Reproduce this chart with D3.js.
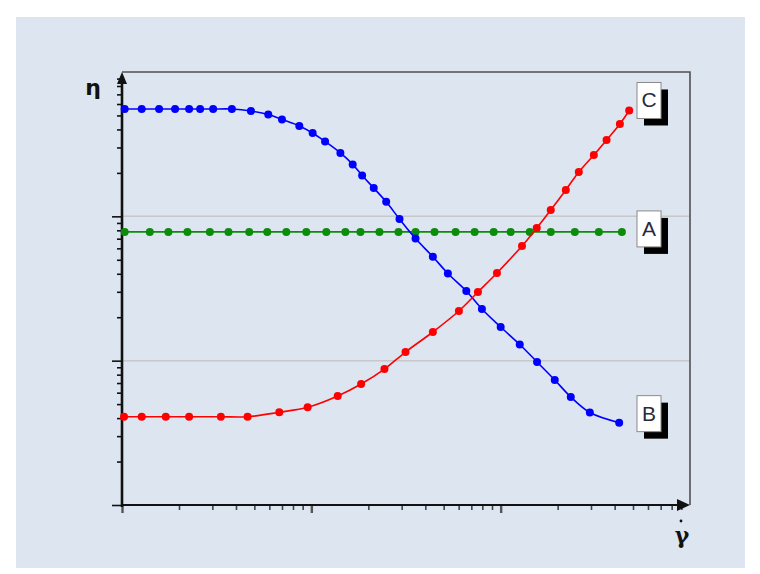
<!DOCTYPE html>
<html>
<head>
<meta charset="utf-8">
<script src="https://cdn.jsdelivr.net/npm/d3@7/dist/d3.min.js"></script>
<style>
  html, body { margin: 0; padding: 0; background: #ffffff; }
  svg { display: block; }
</style>
</head>
<body>
<svg id="chart" width="760" height="574"></svg>
<script>
// Shear rate (γ̇) and viscosity (η) for three flow behaviours, log–log.
const rateA = [1.033, 1.402, 1.758, 2.216, 2.911, 3.652, 4.699, 5.851, 7.376, 9.408, 12.0, 15.13, 18.17, 22.89, 28.86, 35.51, 44.75, 57.8, 72.87, 91.84, 112.9, 142.4, 183.9, 246.4, 329.9, 436.7];
const etaA  = rateA.map(() => 78);

const rateB = [1.033, 1.271, 1.57, 1.907, 2.262, 2.587, 3.03, 3.805, 4.797, 5.923, 6.998, 8.64, 10.16, 11.82, 14.24, 16.54, 18.55, 21.36, 24.85, 29.22, 35.51, 43.84, 52.63, 65.84, 79.61, 100, 126.1, 155.7, 193.1, 234.6, 295.8, 422.6];
const etaB  = [554, 554, 554, 554, 554, 554, 554, 554, 537, 508, 469, 423, 378, 330, 275, 229, 192, 157, 126, 95.8, 70.2, 52.5, 40.2, 30.4, 22.8, 17.1, 12.94, 9.79, 7.35, 5.6, 4.37, 3.72];

const rateC = [1.025, 1.271, 1.703, 2.262, 3.328, 4.603, 6.771, 9.559, 13.78, 18.32, 24.33, 31.44, 43.84, 60.17, 75.85, 95.59, 129.6, 155.1, 183.9, 220.8, 258.6, 310.5, 362.5, 426.2, 477.3];
const etaC  = [4.09, 4.09, 4.09, 4.09, 4.09, 4.09, 4.39, 4.75, 5.69, 6.89, 8.75, 11.48, 15.8, 22.09, 29.91, 40.5, 62.3, 83.0, 110.6, 152.2, 202.9, 266.1, 338.0, 436.3, 541.2];

const seriesNames  = ["A", "B", "C"];
const seriesColors = ["#0b8c0b", "#0000ff", "#ff0000"];

const xDomain = [1, 1000];
const yDomain = [1, 1000];
const gridValues = [10, 100];

const series = [
  { name: seriesNames[0], color: seriesColors[0], pts: rateA.map((r, i) => [r, etaA[i]]) },
  { name: seriesNames[1], color: seriesColors[1], pts: rateB.map((r, i) => [r, etaB[i]]) },
  { name: seriesNames[2], color: seriesColors[2], pts: rateC.map((r, i) => [r, etaC[i]]) }
];

const svg = d3.select("#chart");

// outer panel
svg.append("rect")
  .attr("x", 16).attr("y", 17).attr("width", 729).attr("height", 551)
  .attr("fill", "#dce5f0");

const plotL = 122, plotR = 690, plotT = 72, plotB = 505;

const x = d3.scaleLog().domain(xDomain).range([plotL, plotR]);
const y = d3.scaleLog().domain(yDomain).range([plotB, plotT]);

// all 1..9 × decade tick positions
function logTicks(dom) {
  const out = [];
  for (let d = dom[0]; d < dom[1]; d *= 10)
    for (let k = 1; k <= 9; k++) out.push(d * k);
  out.push(dom[1]);
  return out;
}
const isMajor = v => Math.abs(Math.log10(v) - Math.round(Math.log10(v))) < 1e-9;
const yMinor = logTicks(yDomain).filter(v => !isMajor(v));
const yMajor = logTicks(yDomain).filter(v => isMajor(v) && v < yDomain[1]);
const xMinor = logTicks(xDomain).filter(v => !isMajor(v));
const xMajor = logTicks(xDomain).filter(v => isMajor(v) && v < xDomain[1]);

// horizontal gridlines
svg.append("g").selectAll("line").data(gridValues).join("line")
  .attr("x1", plotL).attr("x2", plotR)
  .attr("y1", d => y(d)).attr("y2", d => y(d))
  .attr("stroke", "#c6c8ca").attr("stroke-width", 1.5);

// frame (top and right)
svg.append("path")
  .attr("d", `M${plotL},${plotT}H${plotR}V${plotB}`)
  .attr("fill", "none").attr("stroke", "#505050").attr("stroke-width", 1.6);

// y ticks
function styleAxis(g, color, w) {
  g.select(".domain").remove();
  g.selectAll(".tick line").attr("stroke", color).attr("stroke-width", w);
  g.selectAll(".tick text").remove();
}
svg.append("g").attr("transform", `translate(${plotL},0)`)
  .call(d3.axisLeft(y).tickValues(yMinor).tickSize(5).tickFormat(""))
  .call(g => styleAxis(g, "#111", 1.6));
svg.append("g").attr("transform", `translate(${plotL},0)`)
  .call(d3.axisLeft(y).tickValues(yMajor).tickSize(10).tickFormat(""))
  .call(g => styleAxis(g, "#111", 1.6));

// x ticks
svg.append("g").attr("transform", `translate(0,${plotB})`)
  .call(d3.axisBottom(x).tickValues(xMinor).tickSize(5).tickFormat(""))
  .call(g => styleAxis(g, "#444", 1.6));
svg.append("g").attr("transform", `translate(0,${plotB})`)
  .call(d3.axisBottom(x).tickValues(xMajor).tickSize(8).tickFormat(""))
  .call(g => styleAxis(g, "#555", 2.4));

// axis lines with arrowheads
svg.append("line")
  .attr("x1", plotL).attr("x2", plotL).attr("y1", plotB + 2).attr("y2", plotT + 8)
  .attr("stroke", "#111").attr("stroke-width", 2.6);
svg.append("path")
  .attr("d", `M${plotL},${plotT}L${plotL - 5},${plotT + 12}L${plotL + 5},${plotT + 12}Z`)
  .attr("fill", "#111");
svg.append("line")
  .attr("x1", plotL - 1).attr("x2", plotR - 10).attr("y1", plotB).attr("y2", plotB)
  .attr("stroke", "#111").attr("stroke-width", 2.2);
svg.append("path")
  .attr("d", `M${plotR},${plotB}L${plotR - 13},${plotB - 6}L${plotR - 13},${plotB + 6}Z`)
  .attr("fill", "#111");

// axis titles
svg.append("text")
  .attr("x", 93).attr("y", 95)
  .attr("text-anchor", "middle")
  .attr("font-family", "DejaVu Sans, sans-serif")
  .attr("font-size", 22).attr("font-weight", "bold")
  .attr("fill", "#111")
  .text("η");
svg.append("text")
  .attr("x", 682).attr("y", 543)
  .attr("text-anchor", "middle")
  .attr("font-family", "DejaVu Serif, serif")
  .attr("font-size", 22).attr("font-weight", "bold")
  .attr("fill", "#111")
  .text("γ");
svg.append("circle").attr("cx", 681).attr("cy", 521).attr("r", 1.4).attr("fill", "#111");

// curves and markers
const line = d3.line()
  .x(d => x(d[0])).y(d => y(d[1]))
  .curve(d3.curveCatmullRom.alpha(0.5));

const gSeries = svg.append("g").selectAll("g").data(series).join("g");
gSeries.append("path")
  .attr("d", d => line(d.pts))
  .attr("fill", "none")
  .attr("stroke", d => d.color)
  .attr("stroke-width", 1.6);
gSeries.selectAll("circle").data(d => d.pts.map(p => ({ p, c: d.color }))).join("circle")
  .attr("cx", d => x(d.p[0])).attr("cy", d => y(d.p[1]))
  .attr("r", 4)
  .attr("fill", d => d.c);

// end labels: white tag with hard black shadow
const labelOffsets = { A: -3, B: -9, C: -10 };
const tagW = 24, tagH = 36, tagX = 637;
const tags = svg.append("g").selectAll("g").data(series).join("g")
  .attr("transform", d => {
    const last = d.pts[d.pts.length - 1];
    const cy = y(last[1]) + labelOffsets[d.name];
    return `translate(${tagX},${cy - tagH / 2})`;
  });
tags.append("rect")
  .attr("x", 7).attr("y", 7).attr("width", tagW).attr("height", tagH)
  .attr("fill", "#000");
tags.append("rect")
  .attr("x", 0).attr("y", 0).attr("width", tagW).attr("height", tagH)
  .attr("fill", "#fff").attr("stroke", "#8a8a8a").attr("stroke-width", 1);
tags.append("text")
  .attr("x", tagW / 2).attr("y", tagH / 2 + 7)
  .attr("text-anchor", "middle")
  .attr("font-family", "Liberation Sans, Arial, sans-serif")
  .attr("font-size", 21)
  .attr("fill", "#2a2a3a")
  .text(d => d.name);
</script>
</body>
</html>
